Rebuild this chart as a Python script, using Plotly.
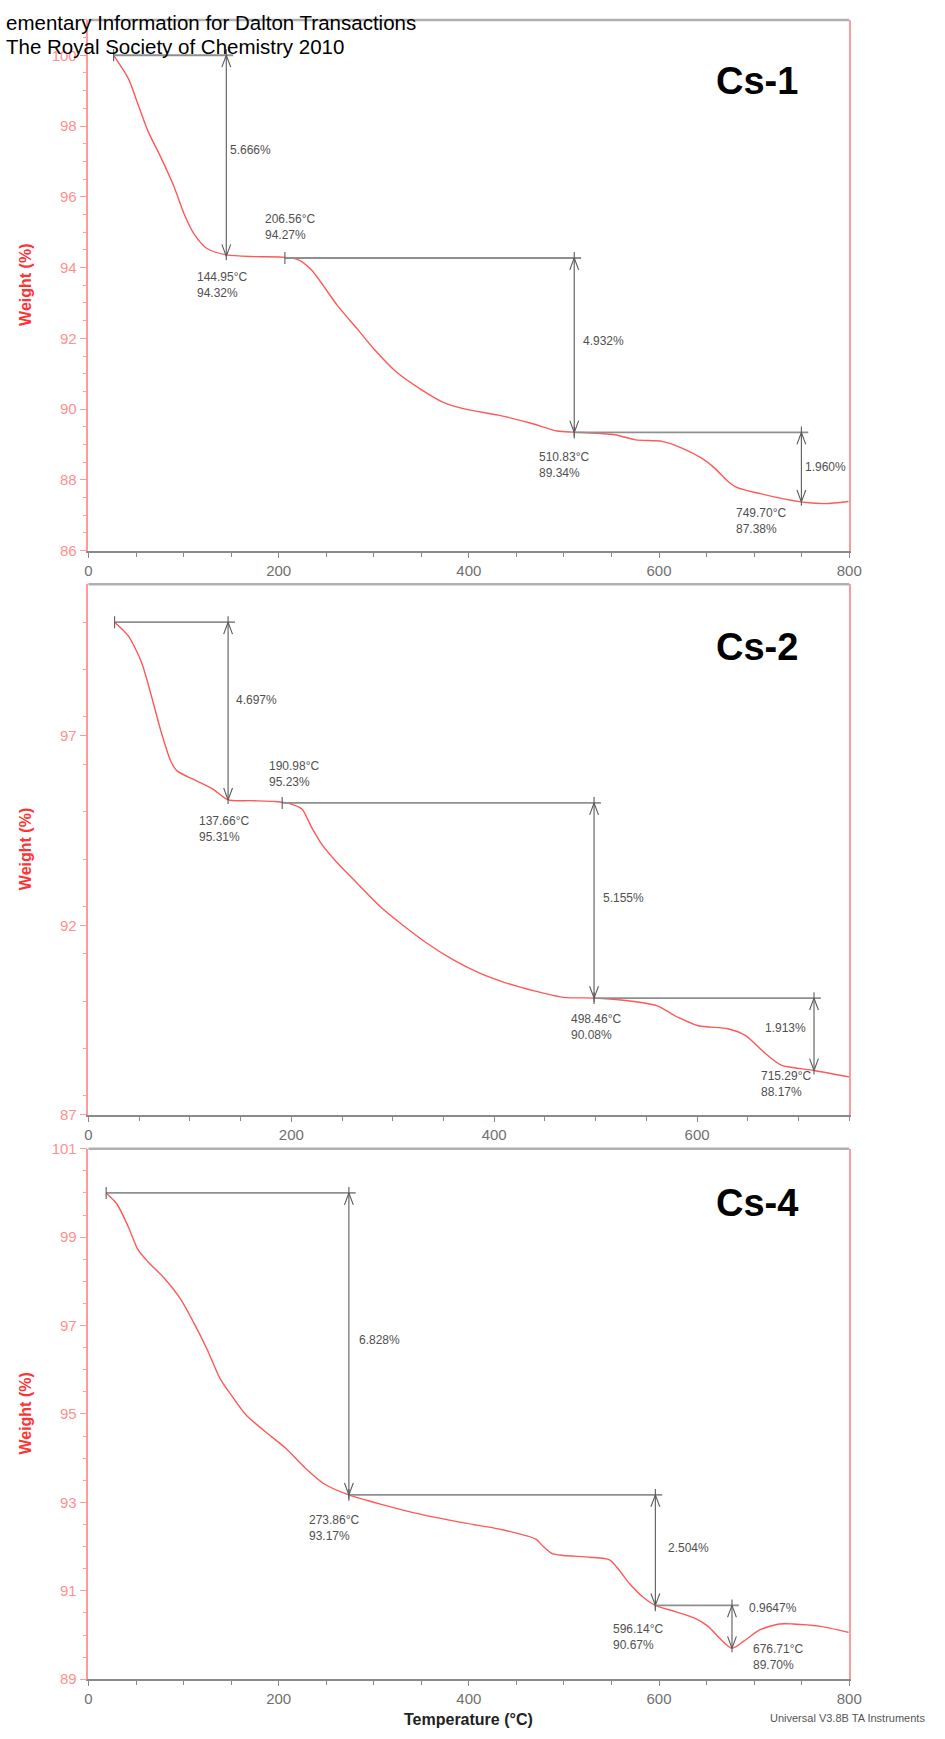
import plotly.graph_objects as go

# ---------------- data ----------------
cs1_temp = [26.5, 42, 52.3, 62.7, 76.4, 90.2, 100.5, 110.8, 124.6, 145.3, 175, 207, 220.9, 234.6,
            262.3, 282.9, 300.2, 324.2, 348.3, 372.5, 396.5, 431, 465.4, 492.9, 510.1, 534.2, 554.9,
            575.5, 603.4, 624, 644.4, 658.2, 672, 682.3, 706.4, 733.9, 754.6, 775.2, 799.2]
cs1_weight = [100.0, 99.34, 98.6, 97.85, 97.1, 96.27, 95.52, 94.96, 94.54, 94.36, 94.31, 94.29, 94.22,
              93.93, 92.91, 92.26, 91.70, 91.04, 90.58, 90.20, 90.0, 89.83, 89.6, 89.38, 89.35, 89.32,
              89.27, 89.13, 89.09, 88.9, 88.62, 88.34, 87.97, 87.78, 87.61, 87.45, 87.36, 87.33, 87.39]
cs1_step_temp = [144.95, 510.83, 749.70]
cs1_step_start = [26.5, 206.56, 510.83]
cs1_step_upper = [100.0, 94.27, 89.34]
cs1_step_lower = [94.32, 89.34, 87.38]
cs1_loss_text = ["5.666%", "4.932%", "1.960%"]
cs1_loss_level = [97.31, 91.93, 88.37]
cs1_point_temp = [144.95, 206.56, 510.83, 749.70]
cs1_point_weight = [94.32, 94.27, 89.34, 87.38]

cs2_temp = [25.8, 39.3, 52.2, 61.8, 71.5, 81.2, 87.6, 103.7, 123, 137.66, 160, 184.3, 197.5, 210.4,
            220.1, 229.7, 245.9, 265.3, 287.8, 307.2, 333, 358.9, 384.6, 410.5, 439.5, 468.6,
            498.46, 525.1, 560.2, 577.8, 601.2, 630.4, 647.9, 665.5, 683.0, 715.29, 750]
cs2_weight = [100.0, 99.64, 98.95, 98.08, 97.12, 96.33, 96.07, 95.85, 95.59, 95.31, 95.29, 95.27,
              95.22, 95.07, 94.58, 94.15, 93.63, 93.10, 92.49, 92.06, 91.54, 91.10, 90.75, 90.49,
              90.27, 90.10, 90.08, 90.03, 89.88, 89.62, 89.35, 89.27, 89.09, 88.66, 88.31, 88.17, 88.0]
cs2_step_temp = [137.66, 498.46, 715.29]
cs2_step_start = [25.8, 190.98, 498.46]
cs2_step_upper = [100.0, 95.23, 90.08]
cs2_step_lower = [95.31, 90.08, 88.17]
cs2_loss_text = ["4.697%", "5.155%", "1.913%"]
cs2_loss_level = [97.94, 92.73, 89.29]
cs2_point_temp = [137.66, 190.98, 498.46, 715.29]
cs2_point_weight = [95.31, 95.23, 90.08, 88.17]

cs4_temp = [18.6, 29.9, 42, 52.3, 62.7, 79.8, 97.1, 110.8, 124.6, 138.4, 150.4, 166, 190, 207.2,
            227.9, 248.5, 273.86, 307, 341.5, 396.5, 431, 470.5, 477.4, 487.7, 499.8, 527.3, 548,
            558.3, 568.7, 582.4, 596.14, 616.8, 637.5, 651.3, 665, 676.71, 689.1, 706.3, 727, 740.7,
            768.3, 799.3]
cs4_weight = [100.0, 99.75, 99.23, 98.71, 98.44, 98.07, 97.59, 97.06, 96.47, 95.8, 95.42, 94.97,
              94.53, 94.23, 93.78, 93.41, 93.17, 92.96, 92.77, 92.53, 92.40, 92.17, 92.02, 91.84,
              91.8, 91.76, 91.70, 91.46, 91.17, 90.87, 90.67, 90.53, 90.38, 90.2, 89.9, 89.70,
              89.86, 90.12, 90.25, 90.25, 90.2, 90.06]
cs4_step_temp = [273.86, 596.14, 676.71]
cs4_step_start = [18.6, 273.86, 596.14]
cs4_step_upper = [100.0, 93.17, 90.67]
cs4_step_lower = [93.17, 90.67, 89.70]
cs4_loss_text = ["6.828%", "2.504%", "0.9647%"]
cs4_loss_level = [96.68, 91.97, 90.61]
cs4_point_temp = [273.86, 596.14, 676.71]
cs4_point_weight = [93.17, 90.67, 89.70]

panel_names = ["Cs-1", "Cs-2", "Cs-4"]
x_ranges = [[0, 800], [0, 750], [0, 800]]
y_ranges = [[86, 101], [87, 101], [89, 101]]
y_tick0 = [86, 87, 89]
y_dtick = [2, 5, 2]
y_minor = [0.5, 1.25, 0.5]

# ---------------- layout geometry / styles ----------------
FIG_W, FIG_H = 945, 1739
X_LEFT, X_RIGHT = 86, 860.7
PANEL_TOP = [11, 581, 1151]
PANEL_BOT = [547, 1116.7, 1686.7]

CURVE_COLOR = "#ff5858"
HLINE_COLOR = "#8f8f8f"
ARROW_COLOR = "#5a5a5a"
LABEL_COLOR = "#505050"
FONT = "Liberation Sans, Arial, sans-serif"

# label offsets (px): (xshift, yshift, yanchor)
point_label_style = [
    [(-31, -12, "top"), (-22, 14, "bottom"), (-37, -16, "top"), (-67, -2, "top")],
    [(-31, -12, "top"), (-15, 12, "bottom"), (-25, -12, "top"), (-55, 3, "top")],
    [(-42, -16, "top"), (-44, -15, "top"), (19, 8, "top")],
]
loss_label_style = [
    [(2, "left"), (7, "left"), (2, "left")],
    [(6, "left"), (7, "left"), (-6, "right")],
    [(8, "left"), (11, "left"), (15, "left")],
]

panels = [
    dict(T=cs1_temp, W=cs1_weight, st=cs1_step_temp, ss=cs1_step_start, su=cs1_step_upper,
         sl=cs1_step_lower, lt=cs1_loss_text, ll=cs1_loss_level, pt=cs1_point_temp, pw=cs1_point_weight),
    dict(T=cs2_temp, W=cs2_weight, st=cs2_step_temp, ss=cs2_step_start, su=cs2_step_upper,
         sl=cs2_step_lower, lt=cs2_loss_text, ll=cs2_loss_level, pt=cs2_point_temp, pw=cs2_point_weight),
    dict(T=cs4_temp, W=cs4_weight, st=cs4_step_temp, ss=cs4_step_start, su=cs4_step_upper,
         sl=cs4_step_lower, lt=cs4_loss_text, ll=cs4_loss_level, pt=cs4_point_temp, pw=cs4_point_weight),
]

fig = go.Figure()
annotations = []
shapes = []
layout_axes = {}

for i, p in enumerate(panels):
    k = "" if i == 0 else str(i + 1)
    xa, ya = "x" + k, "y" + k
    pxx = (X_RIGHT - X_LEFT) / (x_ranges[i][1] - x_ranges[i][0])
    pxy = (PANEL_BOT[i] - PANEL_TOP[i]) / (y_ranges[i][1] - y_ranges[i][0])
    dx = lambda px: px / pxx
    dy = lambda px: px / pxy

    # TGA curve
    fig.add_trace(go.Scatter(x=p["T"], y=p["W"], mode="lines", xaxis=xa, yaxis=ya,
                             line=dict(color=CURVE_COLOR, width=1.4, shape="spline", smoothing=0.7),
                             showlegend=False, hoverinfo="skip"))

    # horizontal step lines
    hx, hy = [], []
    for s, t, u in zip(p["ss"], p["st"], p["su"]):
        hx += [s, t + dx(7), None]
        hy += [u, u, None]
    fig.add_trace(go.Scatter(x=hx, y=hy, mode="lines", xaxis=xa, yaxis=ya,
                             line=dict(color=HLINE_COLOR, width=1.8),
                             showlegend=False, hoverinfo="skip"))
    # start ticks and double-headed vertical arrows
    vx, vy = [], []
    for s, u in zip(p["ss"], p["su"]):
        vx += [s, s, None]
        vy += [u + dy(6), u - dy(6), None]
    for t, u, l in zip(p["st"], p["su"], p["sl"]):
        vx += [t, t, None]
        vy += [u + dy(6), l - dy(4), None]
        vx += [t - dx(4.5), t, t + dx(4.5), None]
        vy += [u - dy(12), u, u - dy(12), None]
        vx += [t - dx(4.5), t, t + dx(4.5), None]
        vy += [l + dy(12), l, l + dy(12), None]
    fig.add_trace(go.Scatter(x=vx, y=vy, mode="lines", xaxis=xa, yaxis=ya,
                             line=dict(color=ARROW_COLOR, width=1.1),
                             showlegend=False, hoverinfo="skip"))

    # loss labels
    for (txt, lev, t), (xs, xanc) in zip(zip(p["lt"], p["ll"], p["st"]), loss_label_style[i]):
        annotations.append(dict(x=t, y=lev, xref=xa, yref=ya, text=txt, showarrow=False,
                                xanchor=xanc, yanchor="middle", xshift=xs,
                                font=dict(family=FONT, size=12, color=LABEL_COLOR)))
    # point labels
    for (t, w), (xs, ys, yanc) in zip(zip(p["pt"], p["pw"]), point_label_style[i]):
        annotations.append(dict(x=t, y=w, xref=xa, yref=ya,
                                text=f"{t:.2f}°C<br>{w:.2f}%", showarrow=False, align="left",
                                xanchor="left", yanchor=yanc, xshift=xs, yshift=ys,
                                font=dict(family=FONT, size=12, color=LABEL_COLOR)))

    ydom = [1 - PANEL_BOT[i] / FIG_H, 1 - PANEL_TOP[i] / FIG_H]
    layout_axes["xaxis" + k] = dict(
        domain=[X_LEFT / FIG_W, X_RIGHT / FIG_W], range=x_ranges[i], anchor=ya,
        showgrid=False, zeroline=False, showline=True, linecolor="#8a8a8a", linewidth=2,
        ticks="outside", ticklen=5, tickwidth=1, tickcolor="#8a8a8a", tick0=0, dtick=200,
        tickfont=dict(family=FONT, size=15, color="#707070"),
        minor=dict(dtick=50, ticks="outside", ticklen=4, tickcolor="#8a8a8a", showgrid=False),
        fixedrange=True)
    layout_axes["yaxis" + k] = dict(
        domain=ydom, range=y_ranges[i], anchor=xa,
        showgrid=False, zeroline=False, showline=True, mirror=True, linecolor="#ff9a9a",
        linewidth=1.5, ticks="outside", ticklen=7, tickwidth=1, tickcolor="#ff9a9a",
        tick0=y_tick0[i], dtick=y_dtick[i],
        tickfont=dict(family=FONT, size=15, color="#ff9090"),
        minor=dict(dtick=y_minor[i], ticks="outside", ticklen=4, tickcolor="#ff9a9a", showgrid=False),
        fixedrange=True)

    shapes.append(dict(type="line", xref=xa + " domain", yref=ya + " domain", x0=0, x1=1, y0=1, y1=1,
                       line=dict(color="#b0b0b0", width=2.5)))

    cy = [73, 644, 1206][i]
    annotations.append(dict(x=767 / FIG_W, y=1 - cy / FIG_H, xref="paper", yref="paper",
                            text=f"<b>{panel_names[i]}</b>", showarrow=False,
                            xanchor="center", yanchor="middle",
                            font=dict(family=FONT, size=38, color="#000000")))
    annotations.append(dict(x=22 / FIG_W, y=1 - (PANEL_TOP[i] + PANEL_BOT[i]) / 2 / FIG_H,
                            xref="paper", yref="paper", text="<b>Weight (%)</b>", textangle=-90,
                            showarrow=False, xanchor="center", yanchor="middle",
                            font=dict(family=FONT, size=16, color="#ff3333")))

annotations.append(dict(x=473 / FIG_W, y=1 - 1727 / FIG_H, xref="paper", yref="paper",
                        text="<b>Temperature (°C)</b>", showarrow=False, xanchor="center",
                        yanchor="middle", font=dict(family=FONT, size=16, color="#222222")))
annotations.append(dict(x=940 / FIG_W, y=1 - 1726 / FIG_H, xref="paper", yref="paper",
                        text="Universal V3.8B TA Instruments", showarrow=False, xanchor="right",
                        yanchor="middle", font=dict(family=FONT, size=11, color="#555555")))
annotations.append(dict(x=0, y=1 - 13.5 / FIG_H, xref="paper", yref="paper",
                        text="ementary Information for Dalton Transactions", showarrow=False,
                        xanchor="left", yanchor="middle",
                        font=dict(family=FONT, size=20.5, color="#000000")))
annotations.append(dict(x=0, y=1 - 38 / FIG_H, xref="paper", yref="paper",
                        text="The Royal Society of Chemistry 2010", showarrow=False,
                        xanchor="left", yanchor="middle",
                        font=dict(family=FONT, size=20.5, color="#000000")))

fig.update_layout(width=FIG_W, height=FIG_H, margin=dict(l=0, r=0, t=0, b=0),
                  paper_bgcolor="white", plot_bgcolor="white", showlegend=False,
                  annotations=annotations, shapes=shapes, **layout_axes)

fig.write_html("out.html", config={"displayModeBar": False},
               post_script="document.body.style.margin='0px';document.body.style.overflow='hidden';")
